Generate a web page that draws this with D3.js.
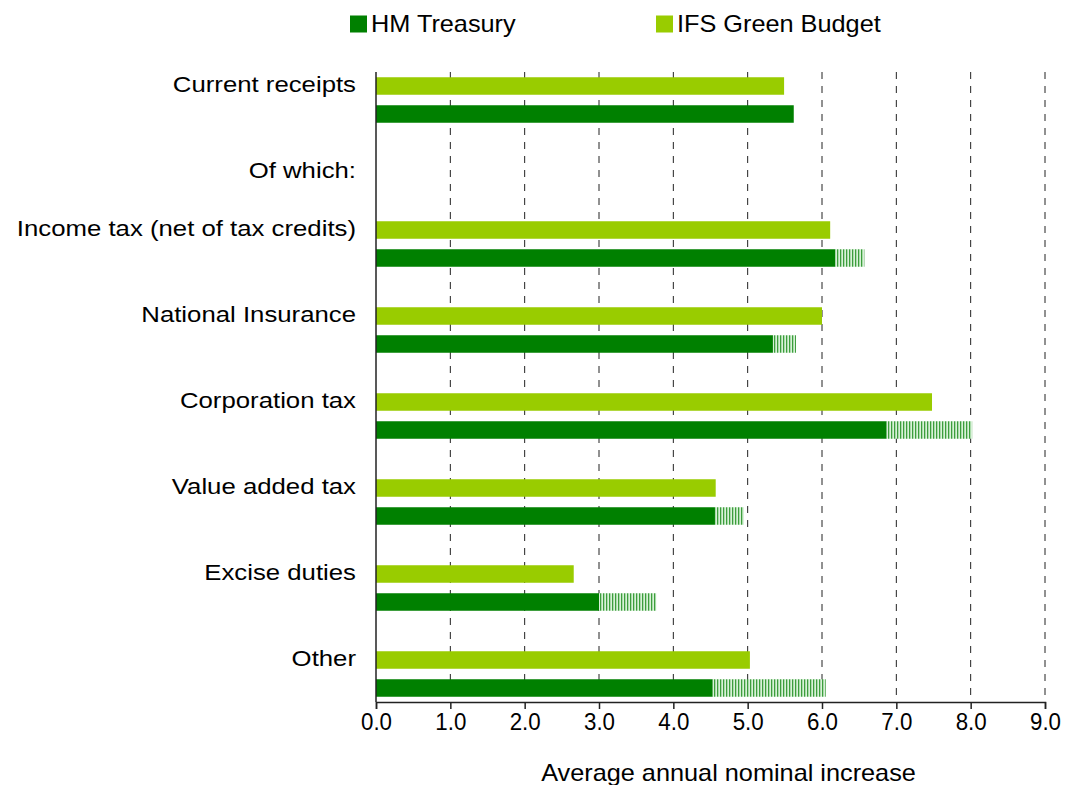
<!DOCTYPE html>
<html>
<head>
<meta charset="utf-8">
<script src="https://cdn.jsdelivr.net/npm/d3@7"></script>
<style>
  html, body { margin: 0; padding: 0; background: #fff; }
  svg { display: block; font-family: "Liberation Sans", Arial, sans-serif; }
</style>
</head>
<body>
<svg id="chart" width="1067" height="785"></svg>
<script>
// ---- data ----
const categories = ["Current receipts", "Income tax (net of tax credits)", "National Insurance",
  "Corporation tax", "Value added tax", "Excise duties", "Other"];
const headerLabel = "Of which:";
const seriesNames = ["HM Treasury", "IFS Green Budget"];
const ifsValues = [5.49, 6.11, 6.00, 7.48, 4.57, 2.66, 5.03];
const hmtValues = [5.62, 6.18, 5.34, 6.87, 4.56, 3.00, 4.53];
const hmtUpper  = [null, 6.57, 5.65, 8.02, 4.95, 3.77, 6.05];
const xTicks = [0, 1, 2, 3, 4, 5, 6, 7, 8, 9];
const xTitle = "Average annual nominal increase";

// ---- layout ----
const svg = d3.select("#chart");
const plotLeft = 376, plotRight = 1045, plotTop = 72, plotBottom = 702;
const darkGreen = "#008000", lightGreen = "#99CC00";
const textScale = "scale(1.12,1)";
const fontSize = 23;

const x = d3.scaleLinear().domain([0, 9]).range([plotLeft, plotRight]);
const yTop = d3.scaleBand().domain([categories[0], headerLabel]).range([42, 214]);
const yMain = d3.scaleBand().domain(categories.slice(1)).range([186, plotBottom]);
const yBand = c => (yTop.domain().includes(c) ? yTop(c) : yMain(c));
const yInner = d3.scaleBand().domain(["IFS Green Budget", "HM Treasury"])
  .range([30, 86]).paddingInner(0.375).paddingOuter(0.1875);

// hatch pattern
const defs = svg.append("defs");
const pat = defs.append("pattern").attr("id", "hatch").attr("patternUnits", "userSpaceOnUse")
  .attr("width", 3).attr("height", 10);
pat.append("rect").attr("width", 3).attr("height", 10).attr("fill", "#a9dba9");
pat.append("rect").attr("x", 0).attr("width", 1).attr("height", 10).attr("fill", "#3d9d3d");
pat.append("rect").attr("x", 2).attr("width", 1).attr("height", 10).attr("fill", "#d9f0d9");

// gridlines
svg.append("g").selectAll("line").data(xTicks.slice(1)).join("line")
  .attr("x1", d => x(d)).attr("x2", d => x(d))
  .attr("y1", plotTop).attr("y2", plotBottom)
  .attr("stroke", "#222").attr("stroke-width", 1).attr("stroke-dasharray", "7,7");

// bars
const rows = categories.map((c, i) => ({ c, ifs: ifsValues[i], hmt: hmtValues[i], up: hmtUpper[i] }));
const bh = yInner.bandwidth();
svg.append("g").selectAll("rect").data(rows).join("rect")
  .attr("x", x(0)).attr("y", d => yBand(d.c) + yInner("IFS Green Budget"))
  .attr("width", d => x(d.ifs) - x(0)).attr("height", bh).attr("fill", lightGreen);
svg.append("g").selectAll("rect").data(rows).join("rect")
  .attr("x", x(0)).attr("y", d => yBand(d.c) + yInner("HM Treasury"))
  .attr("width", d => x(d.hmt) - x(0)).attr("height", bh).attr("fill", darkGreen);
svg.append("g").selectAll("rect").data(rows.filter(d => d.up != null)).join("rect")
  .attr("x", d => x(d.hmt)).attr("y", d => yBand(d.c) + yInner("HM Treasury"))
  .attr("width", d => x(d.up) - x(d.hmt)).attr("height", bh).attr("fill", "url(#hatch)");

// x axis
const xAxis = svg.append("g").attr("transform", `translate(0,${plotBottom})`)
  .call(d3.axisBottom(x).tickValues(xTicks).tickFormat(d3.format(".1f")).tickSize(7).tickPadding(4));
xAxis.select(".domain").attr("stroke", "#222").attr("stroke-width", 1.5);
xAxis.selectAll(".tick line").attr("stroke", "#222").attr("stroke-width", 1.5);
xAxis.selectAll(".tick text").attr("font-size", 24).attr("fill", "#000")
  .attr("font-family", "Liberation Sans, Arial, sans-serif").attr("transform", "scale(0.93,1)");

// y axis line
svg.append("line").attr("x1", plotLeft).attr("x2", plotLeft).attr("y1", plotTop).attr("y2", plotBottom)
  .attr("stroke", "#222").attr("stroke-width", 1.5);

// category labels
const labelRows = [categories[0], headerLabel, ...categories.slice(1)];
svg.append("g").selectAll("g").data(labelRows).join("g")
  .attr("transform", d => `translate(356,${yBand(d) + yInner("IFS Green Budget") + bh / 2 - 2})`)
  .append("text").attr("text-anchor", "end").attr("dy", "0.35em")
  .attr("font-size", fontSize).attr("fill", "#000").attr("transform", textScale)
  .text(d => d);

// x title
svg.append("g").attr("transform", `translate(${(x(0) + x(9)) / 2 + 18},773)`)
  .append("text").attr("text-anchor", "middle").attr("dy", "0.35em")
  .attr("font-size", fontSize).attr("transform", "scale(1.1,1)").text(xTitle);

// legend
const legendX = [350, 656];
const legendColors = [darkGreen, lightGreen];
const lg = svg.append("g").selectAll("g").data(seriesNames).join("g")
  .attr("transform", (d, i) => `translate(${legendX[i]},24)`);
lg.append("rect").attr("x", 0).attr("y", -8.5).attr("width", 17).attr("height", 17)
  .attr("fill", (d, i) => legendColors[i]);
lg.append("g").attr("transform", "translate(21,0)").append("text")
  .attr("dy", "0.35em").attr("font-size", fontSize).attr("transform", "scale(1.1,1)").text(d => d);
</script>
</body>
</html>
